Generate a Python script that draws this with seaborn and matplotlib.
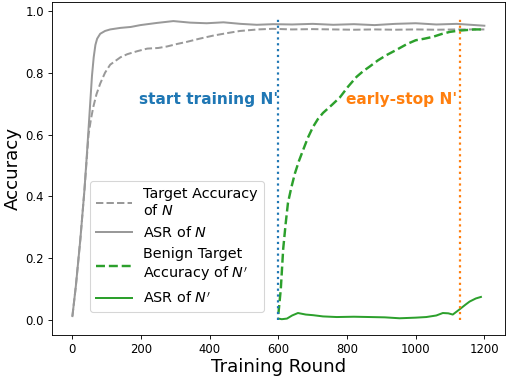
import numpy as np
import pandas as pd
import matplotlib
matplotlib.use("Agg")
import matplotlib.pyplot as plt
import seaborn as sns

# grey curves: model N
rounds_n = [0, 10, 23, 35, 43, 50, 57, 62, 67, 72, 81, 95, 110, 140, 170, 198, 246, 294, 343,
            391, 440, 490, 537, 585, 640, 700, 760, 820, 880, 940, 1000, 1060, 1120, 1160, 1200]
asr_n = [0.013, 0.11, 0.26, 0.42, 0.55, 0.67, 0.79, 0.85, 0.89, 0.91, 0.926, 0.935, 0.94, 0.945,
         0.948, 0.954, 0.961, 0.967, 0.962, 0.960, 0.963, 0.958, 0.955, 0.957, 0.956, 0.958,
         0.955, 0.957, 0.954, 0.958, 0.960, 0.956, 0.958, 0.955, 0.952]

rounds_acc_n = [0, 10, 23, 35, 43, 47, 54, 61, 70, 81, 95, 110, 140, 160, 190, 218, 250, 276, 305,
                334, 370, 410, 450, 488, 540, 584, 640, 700, 760, 820, 880, 940, 1000, 1060, 1120, 1200]
acc_n = [0.013, 0.11, 0.26, 0.42, 0.54, 0.60, 0.65, 0.69, 0.73, 0.765, 0.80, 0.826, 0.85, 0.86,
         0.87, 0.878, 0.88, 0.885, 0.893, 0.90, 0.91, 0.92, 0.928, 0.935, 0.94, 0.942, 0.94,
         0.941, 0.94, 0.939, 0.94, 0.939, 0.94, 0.939, 0.94, 0.94]

# green curves: model N'
rounds_acc_n2 = [600, 607, 614, 621, 628, 638, 648, 660, 672, 686, 701, 715, 730, 755, 779, 803,
                 828, 847, 866, 890, 915, 944, 975, 1000, 1025, 1050, 1075, 1099, 1125, 1148, 1170, 1195]
acc_n2 = [0.02, 0.10, 0.23, 0.31, 0.38, 0.43, 0.474, 0.515, 0.55, 0.59, 0.625, 0.65, 0.67, 0.695,
          0.72, 0.755, 0.787, 0.805, 0.82, 0.84, 0.857, 0.874, 0.893, 0.905, 0.91, 0.916, 0.925,
          0.932, 0.936, 0.938, 0.94, 0.94]

rounds_asr_n2 = [600, 610, 625, 640, 657, 680, 701, 730, 770, 820, 866, 910, 953, 1000, 1031,
                 1060, 1079, 1095, 1108, 1128, 1145, 1157, 1175, 1190]
asr_n2 = [0.005, 0.003, 0.005, 0.015, 0.023, 0.018, 0.016, 0.012, 0.010, 0.011, 0.010, 0.009,
          0.006, 0.008, 0.010, 0.015, 0.023, 0.022, 0.018, 0.035, 0.050, 0.060, 0.070, 0.075]

start_round = 600
stop_round = 1130

GREY = "#999999"
GREEN = "#2ca02c"

fig, ax = plt.subplots(figsize=(6.4, 4.8), dpi=79.375)
fig.subplots_adjust(left=0.102, right=0.994, top=0.995, bottom=0.12)

sns.lineplot(x=rounds_acc_n, y=acc_n, ax=ax, color=GREY, linestyle="--", lw=1.8,
             label="Target Accuracy\nof $N$")
sns.lineplot(x=rounds_n, y=asr_n, ax=ax, color=GREY, lw=1.8, label="ASR of $N$")
sns.lineplot(x=rounds_acc_n2, y=acc_n2, ax=ax, color=GREEN, linestyle="--", lw=2.2,
             label="Benign Target\nAccuracy of $N'$")
sns.lineplot(x=rounds_asr_n2, y=asr_n2, ax=ax, color=GREEN, lw=1.8, label="ASR of $N'$")

ax.vlines(start_round, 0, 0.98, colors="tab:blue", linestyles="dotted", lw=2)
ax.vlines(stop_round, 0, 0.98, colors="tab:orange", linestyles="dotted", lw=2)

ax.text(start_round, 0.713, "start training N'", color="tab:blue", fontsize=14,
        fontweight="bold", ha="right", va="center")
ax.text(stop_round - 10, 0.713, "early-stop N'", color="tab:orange", fontsize=14,
        fontweight="bold", ha="right", va="center")

ax.set_xlabel("Training Round", fontsize=16.5, labelpad=2)
ax.set_ylabel("Accuracy", fontsize=16.5, labelpad=3)
ax.tick_params(labelsize=10.5)
ax.set_xticks(range(0, 1201, 200))

ax.legend(loc="lower left", bbox_to_anchor=(0.085, 0.07), borderaxespad=0, fontsize=13,
          handlelength=2.5)

plt.savefig("out.png", dpi=79.375)
plt.close()
